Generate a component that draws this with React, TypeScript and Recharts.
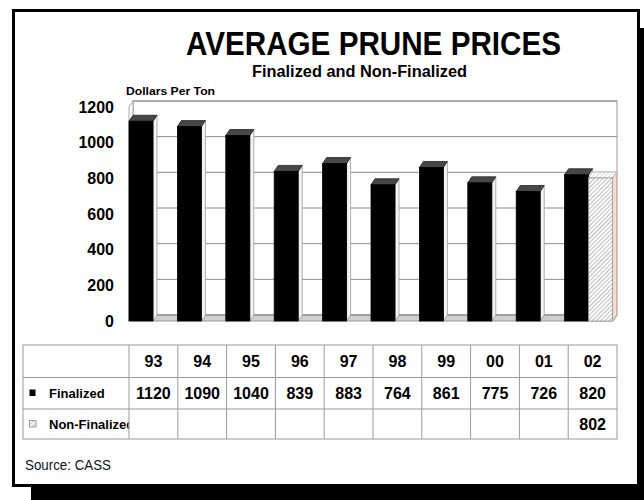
import React from 'react';
import { BarChart, Bar, XAxis, YAxis, CartesianGrid } from 'recharts';

const years = ['93', '94', '95', '96', '97', '98', '99', '00', '01', '02'];
const finalized = [1120, 1090, 1040, 839, 883, 764, 861, 775, 726, 820];
const nonFinalized: (number | null)[] = [null, null, null, null, null, null, null, null, null, 802];
const yTicks = [0, 200, 400, 600, 800, 1000, 1200];

const data = years.map((year, i) => ({
  year,
  finalized: finalized[i],
  nonFinalized: nonFinalized[i]
}));

// layout (page pixels)
const W = 644;
const H = 500;
const PLOT_L = 129;
const PLOT_R = 613;
const PLOT_T = 107;
const PLOT_B = 321;
const DX = 4;
const DY = 6;
const AXIS_W = 50;

const FONT = 'Arial, "Liberation Sans", Helvetica, sans-serif';

// table
const TBL_L = 23;
const TBL_COL0 = PLOT_L;
const TBL_R = PLOT_R + DX;
const ROWS = [345, 377.5, 409, 439];
const colW = (TBL_R - TBL_COL0) / years.length;

const Bar3D = (props: any) => {
  const { x, y, width, height, hatched } = props;
  if (height == null || !(height > 0)) return null;
  const r = x + width;
  const b = y + height;
  return (
    <g>
      <polygon
        points={`${r},${y} ${r + DX},${y - DY} ${r + DX},${b - DY} ${r},${b}`}
        fill={hatched ? '#f7ddd3' : '#f4f4f4'}
        stroke={hatched ? '#e0a08c' : '#999'}
        strokeWidth={0.8}
      />
      <polygon
        points={`${x},${y} ${x + DX},${y - DY} ${r + DX},${y - DY} ${r},${y}`}
        fill={hatched ? 'url(#hatchTop)' : '#474747'}
        stroke={hatched ? '#aaa' : '#222'}
        strokeWidth={0.8}
      />
      <rect
        x={x}
        y={y}
        width={width}
        height={height}
        fill={hatched ? 'url(#hatch)' : '#000'}
        stroke={hatched ? '#999' : '#000'}
        strokeWidth={0.8}
      />
    </g>
  );
};

const gridLine = (p: any) => (
  <line
    key={`h-${p.index}`}
    x1={p.x1 + DX}
    y1={p.y1 - DY}
    x2={p.x2 + DX}
    y2={p.y2 - DY}
    stroke="#8c8c8c"
    strokeWidth={1}
  />
);

const Walls = () => (
  <svg width={W} height={H} style={{ position: 'absolute', left: 0, top: 0 }}>
    <defs>
      <pattern id="hatch" width="3" height="3" patternUnits="userSpaceOnUse" patternTransform="rotate(45)">
        <rect width="3" height="3" fill="#fff" />
        <line x1="0" y1="0" x2="0" y2="3" stroke="#7a7a7a" strokeWidth="1" />
      </pattern>
      <pattern id="hatchTop" width="3" height="3" patternUnits="userSpaceOnUse" patternTransform="rotate(45)">
        <rect width="3" height="3" fill="#fff" />
        <line x1="0" y1="0" x2="0" y2="3" stroke="#bbb" strokeWidth="1" />
      </pattern>
    </defs>
    {/* back wall */}
    <rect
      x={PLOT_L + DX}
      y={PLOT_T - DY}
      width={PLOT_R - PLOT_L}
      height={PLOT_B - PLOT_T}
      fill="#fff"
      stroke="#999"
      strokeWidth={1}
    />
    {/* left wall */}
    <polygon
      points={`${PLOT_L},${PLOT_T} ${PLOT_L + DX},${PLOT_T - DY} ${PLOT_L + DX},${PLOT_B - DY} ${PLOT_L},${PLOT_B}`}
      fill="#fff"
      stroke="#aaa"
      strokeWidth={1}
    />
    {/* floor */}
    <polygon
      points={`${PLOT_L},${PLOT_B} ${PLOT_R},${PLOT_B} ${PLOT_R + DX},${PLOT_B - DY} ${PLOT_L + DX},${PLOT_B - DY}`}
      fill="#cfcfcf"
      stroke="#9a9a9a"
      strokeWidth={1}
    />
  </svg>
);

const Overlay = () => (
  <svg width={W} height={H} style={{ position: 'absolute', left: 0, top: 0 }} fontFamily={FONT}>
    <defs>
      <clipPath id="labelClip">
        <rect x={TBL_L} y={ROWS[0]} width={TBL_COL0 - TBL_L - 0.5} height={ROWS[3] - ROWS[0]} />
      </clipPath>
    </defs>
    <text x={373.5} y={55} fontSize={34} fontWeight="bold" textAnchor="middle" textLength={375} lengthAdjust="spacingAndGlyphs">
      AVERAGE PRUNE PRICES
    </text>
    <text x={359.5} y={77} fontSize={16} fontWeight="bold" textAnchor="middle" textLength={215} lengthAdjust="spacingAndGlyphs">
      Finalized and Non-Finalized
    </text>
    <text x={126} y={94.5} fontSize={11.5} fontWeight="bold" textLength={89} lengthAdjust="spacingAndGlyphs">
      Dollars Per Ton
    </text>

    {/* data table */}
    <g stroke="#9a9a9a" strokeWidth={1} fill="none">
      <rect x={TBL_L} y={ROWS[0]} width={TBL_R - TBL_L} height={ROWS[3] - ROWS[0]} />
      {ROWS.slice(1, 3).map((ry) => (
        <line key={ry} x1={TBL_L} y1={ry} x2={TBL_R} y2={ry} />
      ))}
      {years.map((_, i) => (
        <line key={i} x1={TBL_COL0 + i * colW} y1={ROWS[0]} x2={TBL_COL0 + i * colW} y2={ROWS[3]} />
      ))}
    </g>
    <g fontSize={16} fontWeight="bold" textAnchor="middle" fill="#000">
      {years.map((yr, i) => (
        <text key={`y${i}`} x={TBL_COL0 + (i + 0.5) * colW} y={(ROWS[0] + ROWS[1]) / 2 + 6}>
          {yr}
        </text>
      ))}
      {finalized.map((v, i) => (
        <text key={`f${i}`} x={TBL_COL0 + (i + 0.5) * colW} y={(ROWS[1] + ROWS[2]) / 2 + 6}>
          {v}
        </text>
      ))}
      {nonFinalized.map((v, i) =>
        v == null ? null : (
          <text key={`n${i}`} x={TBL_COL0 + (i + 0.5) * colW} y={(ROWS[2] + ROWS[3]) / 2 + 6}>
            {v}
          </text>
        )
      )}
    </g>
    <rect x={29.5} y={389.5} width={6} height={6.5} fill="#000" />
    <rect x={29.5} y={420.5} width={6.5} height={6.5} fill="url(#hatch)" stroke="#888" strokeWidth={0.8} />
    <g fontSize={13} fontWeight="bold" fill="#000" clipPath="url(#labelClip)">
      <text x={49} y={(ROWS[1] + ROWS[2]) / 2 + 4.5}>Finalized</text>
      <text x={49} y={(ROWS[2] + ROWS[3]) / 2 + 4.5}>Non-Finalized</text>
    </g>

    <text x={25} y={470} fontSize={14} fill="#111" textLength={86} lengthAdjust="spacingAndGlyphs">
      Source: CASS
    </text>
  </svg>
);

export default function App() {
  return (
    <div style={{ position: 'absolute', left: 0, top: 0, width: W, height: H, overflow: 'hidden', background: '#fff' }}>
      <div
        style={{
          position: 'absolute',
          left: 12,
          top: 9,
          width: 628,
          height: 478,
          boxSizing: 'border-box',
          border: '3px solid #000',
          background: '#fff',
          boxShadow: '19px 19px 0 #000'
        }}
      />
      <Walls />
      <div style={{ position: 'absolute', left: 0, top: 0 }}>
        <BarChart
          width={W}
          height={H}
          data={data}
          margin={{ top: PLOT_T, bottom: H - PLOT_B, left: PLOT_L - AXIS_W, right: W - PLOT_R }}
          barCategoryGap={0}
          barGap={0}
        >
          <CartesianGrid vertical={false} horizontal={gridLine} />
          <XAxis dataKey="year" hide />
          <YAxis
            width={AXIS_W}
            domain={[0, 1200]}
            ticks={yTicks}
            interval={0}
            axisLine={false}
            tickLine={false}
            tickSize={0}
            tickMargin={15}
            tick={{ fontSize: 16, fontWeight: 'bold', fill: '#000', fontFamily: FONT }}
          />
          <Bar dataKey="finalized" isAnimationActive={false} shape={(p: any) => <Bar3D {...p} />} />
          <Bar dataKey="nonFinalized" isAnimationActive={false} shape={(p: any) => <Bar3D {...p} hatched />} />
        </BarChart>
      </div>
      <Overlay />
    </div>
  );
}
